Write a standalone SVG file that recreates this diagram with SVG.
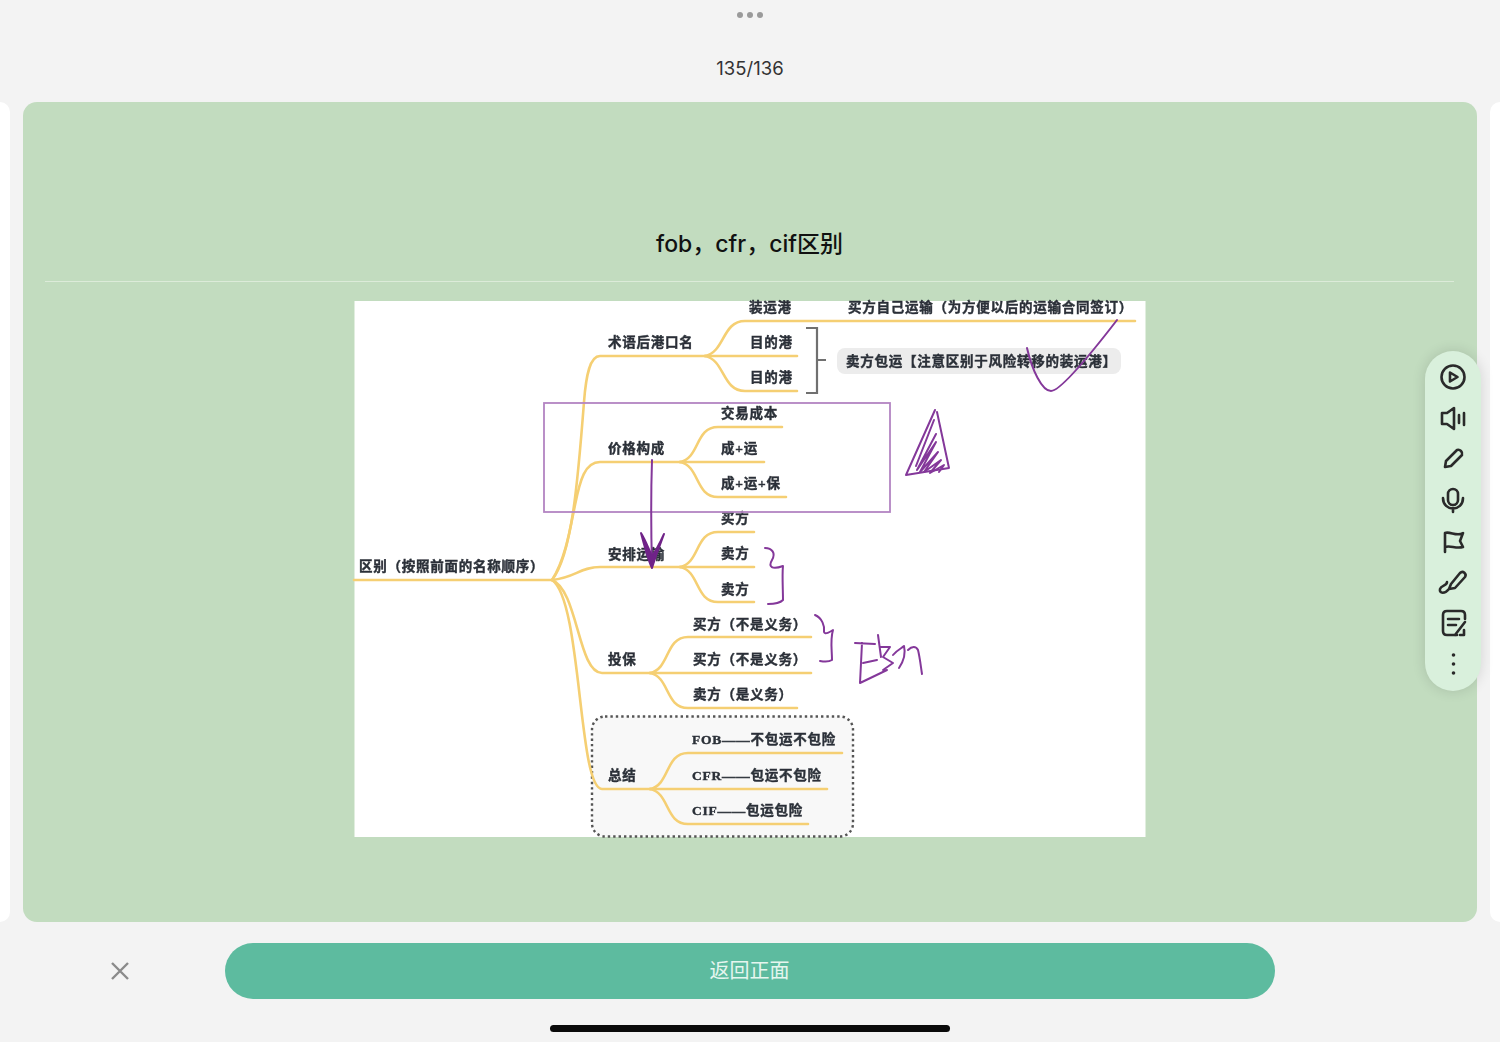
<svg xmlns="http://www.w3.org/2000/svg" width="1500" height="1042" viewBox="0 0 1500 1042">
<style>
.ui{font-family:"Inter","Noto Sans","Noto Sans CJK SC",sans-serif}
.t{font-family:"Liberation Serif","Noto Sans CJK SC",serif;font-weight:700;font-size:13.5px;letter-spacing:.75px;fill:#2b3038;stroke:#2b3038;stroke-width:.4px;dominant-baseline:central}
.y{fill:none;stroke:#f5cf73;stroke-width:2.6;stroke-linecap:round}
.p{fill:none;stroke:#84389a;stroke-width:2;stroke-linecap:round;stroke-linejoin:round}
.i{fill:none;stroke:#2a2a2a;stroke-width:2.6;stroke-linecap:round;stroke-linejoin:round}
</style>
<defs>
<filter id="soft" x="-2%" y="-2%" width="104%" height="104%"><feGaussianBlur stdDeviation="0.55"/></filter>
<filter id="sh" x="-40%" y="-10%" width="180%" height="120%"><feGaussianBlur stdDeviation="7"/></filter>
</defs>
<rect width="1500" height="1042" fill="#f3f3f3"/>
<g id="top-bar">
<circle cx="740" cy="15" r="3" fill="#9a9a9a"/><circle cx="750" cy="15" r="3" fill="#9a9a9a"/><circle cx="760" cy="15" r="3" fill="#9a9a9a"/>
<text class="ui" x="750" y="75" text-anchor="middle" font-size="18.500" fill="#333">135/136</text>
</g>
<rect x="-20" y="102" width="30" height="820" rx="10" fill="#fff"/>
<rect x="1490" y="102" width="30" height="820" rx="10" fill="#fff"/>
<g id="card">
<rect x="23" y="102" width="1454" height="820" rx="14" fill="#c2dcbf"/>
<text class="ui" x="749.500" y="252" text-anchor="middle" font-size="23" font-weight="500" fill="#111">fob，cfr，cif区别</text>
<line x1="45" x2="1454" y1="281.500" y2="281.500" stroke="#dcebd9" stroke-width="1"/>
</g>
<g id="picture">
<rect x="354.500" y="301" width="791" height="536" fill="#fff"/>
<g filter="url(#soft)">
<rect x="592" y="716.500" width="261" height="120" rx="13" fill="#f8f8f8" stroke="#555" stroke-width="2.400" stroke-dasharray="2.400 3"/>
<rect x="837" y="348" width="284" height="26" rx="8" fill="#ececec"/>
<path d="M806 328H817V393H806M817 360H826" fill="none" stroke="#6f6f6f" stroke-width="2.200"/>
<g id="connectors">
<path class="y" d="M354 580H552"/>
<path class="y" d="M552 580C572 555 578 480 584 402C586 375 590 356 600 356H705"/>
<path class="y" d="M552 580C565 560 570 530 575 505C580 480 585 462 600 462H680"/>
<path class="y" d="M552 580C575 578 580 567 600 567H680"/>
<path class="y" d="M552 580C578 590 578 673 602 673H650"/>
<path class="y" d="M552 580C582 600 578 789 602 789H650"/>
<path class="y" d="M705 356C725 352 722 321 745 321H1135"/>
<path class="y" d="M705 356H797"/>
<path class="y" d="M705 356C725 360 722 391 745 391H797"/>
<path class="y" d="M680 462C700 458 695 427 718 427H782"/>
<path class="y" d="M680 462H764"/>
<path class="y" d="M680 462C700 466 695 497 718 497H786"/>
<path class="y" d="M680 567C700 563 695 532 718 532H754"/>
<path class="y" d="M680 567H754"/>
<path class="y" d="M680 567C700 571 695 602 718 602H754"/>
<path class="y" d="M650 673C670 669 665 637 688 637H811"/>
<path class="y" d="M650 673H811"/>
<path class="y" d="M650 673C670 677 665 708 688 708H797"/>
<path class="y" d="M650 789C670 785 665 753 688 753H842"/>
<path class="y" d="M650 789H827"/>
<path class="y" d="M650 789C670 793 665 824 688 824H808"/>
</g>
<g id="n-root"><text class="t" x="359" y="566">区别（按照前面的名称顺序）</text></g>
<g id="n-term"><text class="t" x="608" y="342">术语后港口名</text></g>
<g id="n-t1"><text class="t" x="749" y="307">装运港</text></g>
<g id="n-t1b"><text class="t" x="848" y="307">买方自己运输（为方便以后的运输合同签订）</text></g>
<g id="n-t2"><text class="t" x="750" y="342">目的港</text></g>
<g id="n-t3"><text class="t" x="750" y="377">目的港</text></g>
<g id="n-note"><text class="t" x="846" y="361">卖方包运【注意区别于风险转移的装运港】</text></g>
<g id="n-price"><text class="t" x="608" y="448">价格构成</text></g>
<g id="n-p1"><text class="t" x="721" y="413">交易成本</text></g>
<g id="n-p2"><text class="t" x="721" y="448">成+运</text></g>
<g id="n-p3"><text class="t" x="721" y="483">成+运+保</text></g>
<g id="n-ship"><text class="t" x="608" y="554">安排运输</text></g>
<g id="n-s1"><text class="t" x="721" y="518">买方</text></g>
<g id="n-s2"><text class="t" x="721" y="553">卖方</text></g>
<g id="n-s3"><text class="t" x="721" y="589">卖方</text></g>
<g id="n-ins"><text class="t" x="608" y="659">投保</text></g>
<g id="n-i1"><text class="t" x="693" y="624">买方（不是义务）</text></g>
<g id="n-i2"><text class="t" x="693" y="659">买方（不是义务）</text></g>
<g id="n-i3"><text class="t" x="693" y="694">卖方（是义务）</text></g>
<g id="n-sum"><text class="t" x="608" y="775">总结</text></g>
<g id="n-f"><text class="t" x="692" y="739">FOB——不包运不包险</text></g>
<g id="n-c"><text class="t" x="692" y="775">CFR——包运不包险</text></g>
<g id="n-i"><text class="t" x="692" y="810">CIF——包运包险</text></g>
<g id="ink">
<rect x="544" y="403" width="346" height="109" fill="none" stroke="#b384c2" stroke-width="1.800"/>
<path class="p" d="M652 460C651 490 651 530 652 567"/>
<path d="M641 533C645 548 648 560 652 568C655 558 660 545 664 534C659 545 655 552 652 556C649 550 646 541 641 533Z" fill="#6f2488" stroke="#6f2488" stroke-width="2" stroke-linejoin="round"/>
<path class="p" d="M1027 348C1032 370 1042 391 1051 391C1060 391 1090 355 1117 320"/>
<path class="p" stroke-width="1.500" d="M935 410L906 475L949 468L937 412"/>
<path class="p" stroke-width="2.200" d="M934 420L916 466M936 434L917 470L936 442L920 472L938 452L924 472L941 460L930 473L944 465L939 472"/>
<path class="p" d="M765 548C772 548 776 553 772 560C768 567 772 570 783 566C782 575 783 590 783 600C780 603 775 604 768 604"/>
<path class="p" d="M815 615C822 618 825 626 824 632C825 635 830 632 833 630C830 640 832 650 832 660C829 662 825 662 820 661"/>
<path class="p" stroke-width="1.700" d="M855 643L875 644M862 643L860 683L887 670M863 663L877 660M878 635L881 657M880 647L890 647L883 657L893 663L883 670M893 655C897 650 902 648 904 646C906 654 903 662 899 668M908 650C912 646 916 646 918 650C920 658 921 668 922 674"/>
</g>
</g>
</g>
<g id="toolbar">
<rect x="1425" y="351" width="56" height="340" rx="28" fill="#000" opacity=".13" filter="url(#sh)"/>
<rect x="1425" y="351" width="56" height="340" rx="28" fill="#d9f0dc"/>
<circle class="i" cx="1453" cy="377" r="11.500"/><path class="i" d="M1450 372.500L1457.500 377L1450 381.500Z" stroke-width="2"/>
<path class="i" d="M1442 413H1447L1454 408V429L1447 424H1442ZM1459 415V423M1464 413V425"/>
<path class="i" d="M1445 467L1446 461L1457 450C1460 449 1463 452 1462 455L1451 466Z"/>
<rect class="i" x="1448" y="489" width="10" height="16" rx="5"/><path class="i" d="M1443 498C1443 512 1463 512 1463 498M1453 508V512"/>
<path class="i" d="M1445 552V533C1450 531 1457 537 1463 533L1460 541L1463 547C1456 549 1450 545 1445 547"/>
<path class="i" d="M1451 584L1460 573C1463 570 1467 574 1465 577L1455 588L1449 589ZM1449 589C1445 594 1439 594 1440 589C1441 585 1447 586 1447 582"/>
<path class="i" d="M1457 635H1447C1444 635 1443 633 1443 631V615C1443 612 1445 611 1447 611H1461C1464 611 1465 613 1465 615V619M1448 619H1459M1448 625H1456M1455 635L1465 622M1464 630V635H1460"/>
<circle cx="1453.500" cy="655" r="1.800" fill="#2a2a2a"/><circle cx="1453.500" cy="664" r="1.800" fill="#2a2a2a"/><circle cx="1453.500" cy="673" r="1.800" fill="#2a2a2a"/>
</g>
<g id="bottom-bar">
<path d="M112 963L128 979M128 963L112 979" stroke="#8a8a8a" stroke-width="2.400" fill="none"/>
<rect x="225" y="943" width="1050" height="56" rx="28" fill="#5dbb9f"/>
<text class="ui" x="749.500" y="978" text-anchor="middle" font-size="20" fill="#e6f6ef">返回正面</text>
<rect x="550" y="1025" width="400" height="7" rx="3.500" fill="#0a0a0a"/>
</g>
</svg>
